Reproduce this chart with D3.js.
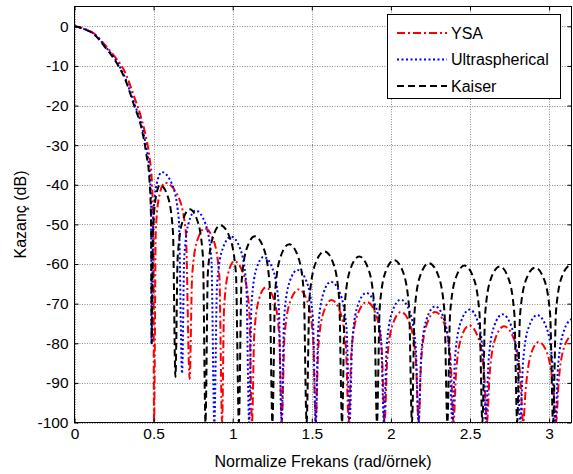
<!DOCTYPE html>
<html>
<head>
<meta charset="utf-8">
<script src="https://cdn.jsdelivr.net/npm/d3@7"></script>
<style>
  html, body { margin: 0; padding: 0; background: #fff; }
  svg { display: block; font-family: "Liberation Sans", Arial, Helvetica, sans-serif; }
</style>
</head>
<body>
<svg id="chart" width="573" height="474"></svg>
<script>
// Axis ticks
const xTicks = [0, 0.5, 1, 1.5, 2, 2.5, 3];
const yTicks = [0, -10, -20, -30, -40, -50, -60, -70, -80, -90, -100];

// Series names in legend order
const seriesNames = ["YSA", "Ultraspherical", "Kaiser"];

// Magnitude responses: [normalized frequency (rad/sample), gain (dB)]
const ysa = [
  [0,0],[0.063,-0.6],[0.126,-1.9],[0.19,-4.6],[0.253,-7.6],[0.316,-11.3],[0.379,-18],[0.421,-23],[0.453,-28.2],[0.474,-33],[0.49,-40],[0.498,-52],[0.503,-100],
  [0.514,-51.5],[0.5375,-42.5],[0.572,-39.5],[0.65,-42.5],[0.703,-51.5],[0.728,-89],
  [0.7435,-63],[0.7765,-54],[0.825,-51],[0.879,-54],[0.9157,-63],[0.933,-100],
  [0.9453,-71.3],[0.9715,-62.3],[1.01,-59.3],[1.066,-62.3],[1.1041,-71.3],[1.122,-100],
  [1.1361,-77.9],[1.166,-68.9],[1.21,-65.9],[1.26,-68.9],[1.294,-77.9],[1.31,-100],
  [1.3273,-78.4],[1.364,-69.4],[1.418,-66.4],[1.4715,-69.4],[1.5079,-78.4],[1.525,-100],
  [1.541,-81.1],[1.575,-72.1],[1.625,-69.1],[1.679,-72.1],[1.7157,-81.1],[1.733,-100],
  [1.7514,-81.6],[1.7905,-72.6],[1.848,-69.6],[1.904,-72.6],[1.9421,-81.6],[1.96,-100],
  [1.9768,-84.1],[2.0125,-75.1],[2.065,-72.1],[2.12,-75.1],[2.1574,-84.1],[2.175,-100],
  [2.1918,-84.1],[2.2275,-75.1],[2.28,-72.1],[2.338,-75.1],[2.3774,-84.1],[2.396,-100],
  [2.4118,-87.5],[2.4455,-78.5],[2.495,-75.5],[2.551,-78.5],[2.5891,-87.5],[2.607,-100],
  [2.6243,-87.7],[2.661,-78.7],[2.715,-75.7],[2.7755,-78.7],[2.8166,-87.7],[2.836,-100],
  [2.8518,-91.7],[2.8855,-82.7],[2.935,-79.7],[2.9895,-82.7],[3.0266,-91.7],[3.044,-100],
  [3.06,-90],[3.095,-81],[3.1416,-78]
];

const ultraspherical = [
  [0,0],[0.063,-0.7],[0.126,-2.0],[0.19,-4.9],[0.253,-8.1],[0.316,-12.6],[0.379,-19.6],[0.421,-24.5],[0.453,-30.5],[0.474,-36.5],[0.484,-45],[0.487,-80],
  [0.4974,-48.8],[0.5195,-39.8],[0.552,-36.8],[0.616,-39.8],[0.6595,-48.8],[0.68,-87.6],
  [0.6936,-58.5],[0.7225,-49.5],[0.765,-46.5],[0.8245,-49.5],[0.865,-58.5],[0.884,-100],
  [0.901,-65.1],[0.937,-56.1],[0.99,-53.1],[1.047,-56.1],[1.0858,-65.1],[1.104,-100],
  [1.1187,-70.2],[1.15,-61.2],[1.196,-58.2],[1.2525,-61.2],[1.2909,-70.2],[1.309,-100],
  [1.3252,-73.5],[1.3595,-64.5],[1.41,-61.5],[1.4675,-64.5],[1.5066,-73.5],[1.525,-100],
  [1.5402,-76.5],[1.5725,-67.5],[1.62,-64.5],[1.6795,-67.5],[1.72,-76.5],[1.739,-100],
  [1.756,-79.3],[1.792,-70.3],[1.845,-67.3],[1.9005,-70.3],[1.9382,-79.3],[1.956,-100],
  [1.973,-81],[2.009,-72],[2.062,-69],[2.1185,-72],[2.1569,-81],[2.175,-100],
  [2.1918,-82.7],[2.2275,-73.7],[2.28,-70.7],[2.334,-73.7],[2.3707,-82.7],[2.388,-100],
  [2.4056,-83.5],[2.443,-74.5],[2.498,-71.5],[2.549,-74.5],[2.5837,-83.5],[2.6,-100],
  [2.6168,-84.7],[2.6525,-75.7],[2.705,-72.7],[2.7615,-75.7],[2.7999,-84.7],[2.818,-100],
  [2.8351,-84.9],[2.8715,-75.9],[2.925,-72.9],[2.982,-75.9],[3.0208,-84.9],[3.039,-100],
  [3.0566,-85.8],[3.094,-76.8],[3.1416,-73.9]
];

const kaiser = [
  [0,0],[0.063,-0.7],[0.126,-2.1],[0.19,-5.1],[0.253,-8.4],[0.316,-13],[0.379,-20.2],[0.421,-25.3],[0.453,-32],[0.474,-38.8],[0.484,-48.9],[0.488,-80],
  [0.4965,-52],[0.515,-43],[0.541,-40],[0.59,-43],[0.6225,-52],[0.638,-88.5],
  [0.6524,-58.2],[0.683,-49.2],[0.728,-46.2],[0.778,-49.2],[0.812,-58.2],[0.828,-100],
  [0.843,-62.2],[0.875,-53.2],[0.922,-50.2],[0.9805,-53.2],[1.0203,-62.2],[1.039,-100],
  [1.0552,-65],[1.0895,-56],[1.14,-53],[1.1955,-56],[1.2332,-65],[1.251,-100],
  [1.268,-67],[1.304,-58],[1.357,-55],[1.412,-58],[1.4494,-67],[1.467,-100],
  [1.4851,-68.8],[1.5235,-59.8],[1.58,-56.8],[1.6355,-59.8],[1.6732,-68.8],[1.691,-100],
  [1.7084,-70.1],[1.7455,-61.1],[1.8,-58.1],[1.856,-61.1],[1.8941,-70.1],[1.912,-100],
  [1.9293,-71],[1.966,-62],[2.02,-59],[2.0765,-62],[2.1149,-71],[2.133,-100],
  [2.1501,-71.8],[2.1865,-62.8],[2.24,-59.8],[2.2985,-62.8],[2.3383,-71.8],[2.357,-100],
  [2.3743,-72.4],[2.411,-63.4],[2.465,-60.4],[2.5215,-63.4],[2.5599,-72.4],[2.578,-100],
  [2.5956,-72.6],[2.633,-63.6],[2.688,-60.6],[2.743,-63.6],[2.7804,-72.6],[2.798,-100],
  [2.8162,-72.9],[2.855,-63.9],[2.912,-60.9],[2.9685,-63.9],[3.0069,-72.9],[3.025,-100],
  [3.0437,-71.9],[3.083,-62.9],[3.1416,-59.9]
];

// ---- layout ----
const svg = d3.select("#chart");
const plot = { left: 74.5, right: 571.5, top: 6.5, bottom: 422.5 };
const fontSize = 15.5;

const x = d3.scaleLinear().domain([0, Math.PI]).range([plot.left, plot.right]);
const y = d3.scaleLinear().domain([-100, 5]).range([plot.bottom, plot.top]);

svg.append("rect").attr("width", 573).attr("height", 474).attr("fill", "#fff");

// grid
const grid = svg.append("g").attr("stroke", "#8c8c8c").attr("stroke-width", 1)
  .attr("stroke-dasharray", "1,1.5").attr("fill", "none");
grid.selectAll("line.gx").data(xTicks).join("line")
  .attr("x1", d => Math.round(x(d)) + 0.5).attr("x2", d => Math.round(x(d)) + 0.5)
  .attr("y1", plot.top).attr("y2", plot.bottom);
grid.selectAll("line.gy").data(yTicks).join("line")
  .attr("x1", plot.left).attr("x2", plot.right)
  .attr("y1", d => Math.round(y(d)) + 0.5).attr("y2", d => Math.round(y(d)) + 0.5);

// series
svg.append("clipPath").attr("id", "plotclip").append("rect")
  .attr("x", plot.left).attr("y", plot.top)
  .attr("width", plot.right - plot.left).attr("height", plot.bottom - plot.top);

const styles = {
  "YSA":            { data: ysa,            color: "#ff0000", dash: "8,3,2,3" },
  "Ultraspherical": { data: ultraspherical, color: "#0000ff", dash: "2,2.5" },
  "Kaiser":         { data: kaiser,         color: "#000000", dash: "7,4" }
};

const line = d3.line().x(d => x(d[0])).y(d => y(d[1])).curve(d3.curveMonotoneX);

const lines = svg.append("g").attr("clip-path", "url(#plotclip)");
seriesNames.forEach(name => {
  const s = styles[name];
  lines.append("path")
    .datum(s.data)
    .attr("d", line)
    .attr("fill", "none")
    .attr("stroke", s.color)
    .attr("stroke-width", 2)
    .attr("stroke-dasharray", s.dash)
    .attr("stroke-linejoin", "round");
});

// axes: inward ticks on all four sides
const tickLen = 4;
const fmt = d => String(d);
const gx = svg.append("g").attr("transform", `translate(0,${plot.bottom})`)
  .call(d3.axisBottom(x).tickValues(xTicks).tickSize(-tickLen).tickPadding(5).tickFormat(fmt));
const gxt = svg.append("g").attr("transform", `translate(0,${plot.top})`)
  .call(d3.axisTop(x).tickValues(xTicks).tickSize(-tickLen).tickFormat(""));
const gy = svg.append("g").attr("transform", `translate(${plot.left},0)`)
  .call(d3.axisLeft(y).tickValues(yTicks).tickSize(-tickLen).tickPadding(6).tickFormat(fmt));
const gyr = svg.append("g").attr("transform", `translate(${plot.right},0)`)
  .call(d3.axisRight(y).tickValues(yTicks).tickSize(-tickLen).tickFormat(""));

[gx, gxt, gy, gyr].forEach(g => {
  g.select(".domain").remove();
  g.selectAll("line").attr("stroke", "#000");
  g.selectAll("text").attr("fill", "#000").style("font-size", fontSize + "px")
    .style("font-family", '"Liberation Sans", Arial, sans-serif');
});

// axes box
svg.append("rect")
  .attr("x", plot.left).attr("y", plot.top)
  .attr("width", plot.right - plot.left).attr("height", plot.bottom - plot.top)
  .attr("fill", "none").attr("stroke", "#000").attr("stroke-width", 1);

// axis titles
svg.append("text")
  .attr("x", (plot.left + plot.right) / 2).attr("y", 467)
  .attr("text-anchor", "middle").style("font-size", "16px")
  .text("Normalize Frekans (rad/örnek)");

svg.append("text")
  .attr("transform", `translate(26,${(plot.top + plot.bottom) / 2}) rotate(-90)`)
  .attr("text-anchor", "middle").style("font-size", "16px")
  .text("Kazanç (dB)");

// legend
const legend = svg.append("g");
legend.append("rect")
  .attr("x", 387.5).attr("y", 14.5).attr("width", 173).attr("height", 84)
  .attr("fill", "#fff").attr("stroke", "#000").attr("stroke-width", 1);
seriesNames.forEach((name, i) => {
  const s = styles[name];
  const ly = 33 + i * 26.5;
  legend.append("line")
    .attr("x1", 397).attr("x2", 447).attr("y1", ly).attr("y2", ly)
    .attr("stroke", s.color).attr("stroke-width", 2).attr("stroke-dasharray", s.dash);
  legend.append("text")
    .attr("x", 451).attr("y", ly).attr("dy", "0.36em")
    .style("font-size", "16px").text(name);
});
</script>
</body>
</html>
